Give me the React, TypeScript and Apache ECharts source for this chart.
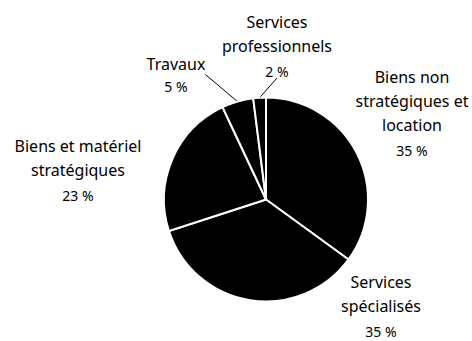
import React, { useEffect, useRef } from "react";
import * as echarts from "echarts";

const categories = [
  "Biens non stratégiques et location",
  "Services spécialisés",
  "Biens et matériel stratégiques",
  "Travaux",
  "Services professionnels",
];
const labelTextLines = [
  ["Biens non", "stratégiques et", "location"],
  ["Services", "spécialisés"],
  ["Biens et matériel", "stratégiques"],
  ["Travaux"],
  ["Services", "professionnels"],
];
const values = [35, 35, 23, 5, 2];
const showLeader = [false, false, false, true, true];

// layout only: label block centres and percent line heights
const labelPos = [
  [412, 114],
  [381, 307],
  [78, 171],
  [176, 74],
  [277, 47],
];
const pctLineHeight = [26, 26, 26, 20, 26];

const FONT = "Noto Sans";

export default function App() {
  const ref = useRef<HTMLDivElement>(null);
  useEffect(() => {
    if (!ref.current) return;
    const chart = echarts.init(ref.current, null, { renderer: "svg" });
    const data = categories.map((name, i) => ({
      name,
      value: values[i],
      labelLine: { show: showLeader[i] },
      label: {
        rich: {
          n: { fontSize: 16, lineHeight: 24, fontFamily: FONT, color: "#000" },
          p: { fontSize: 14, lineHeight: pctLineHeight[i], fontFamily: FONT, color: "#000" },
        },
      },
    }));
    chart.setOption({
      animation: false,
      backgroundColor: "#fff",
      series: [
        {
          type: "pie",
          center: [266, 199.5],
          radius: [0, 102],
          startAngle: 90,
          clockwise: true,
          avoidLabelOverlap: false,
          itemStyle: { color: "#000", borderColor: "#fff", borderWidth: 2 },
          emphasis: { disabled: true },
          label: {
            show: true,
            position: "outside",
            color: "#000",
            fontFamily: FONT,
            align: "center",
            formatter: (p: any) => {
              const lines = labelTextLines[p.dataIndex].map((l) => `{n|${l}}`);
              lines.push(`{p|${p.value} %}`);
              return lines.join("\n");
            },
          },
          labelLine: {
            show: true,
            length: 10,
            length2: 0,
            lineStyle: { color: "#000", width: 1 },
          },
          labelLayout: (params: any) => ({
            x: labelPos[params.dataIndex][0],
            y: labelPos[params.dataIndex][1],
            align: "center",
            verticalAlign: "middle",
          }),
          data,
        },
      ],
    });
    return () => chart.dispose();
  }, []);
  return (
    <div
      ref={ref}
      style={{ position: "fixed", left: 0, top: 0, width: 472, height: 341 }}
    />
  );
}
